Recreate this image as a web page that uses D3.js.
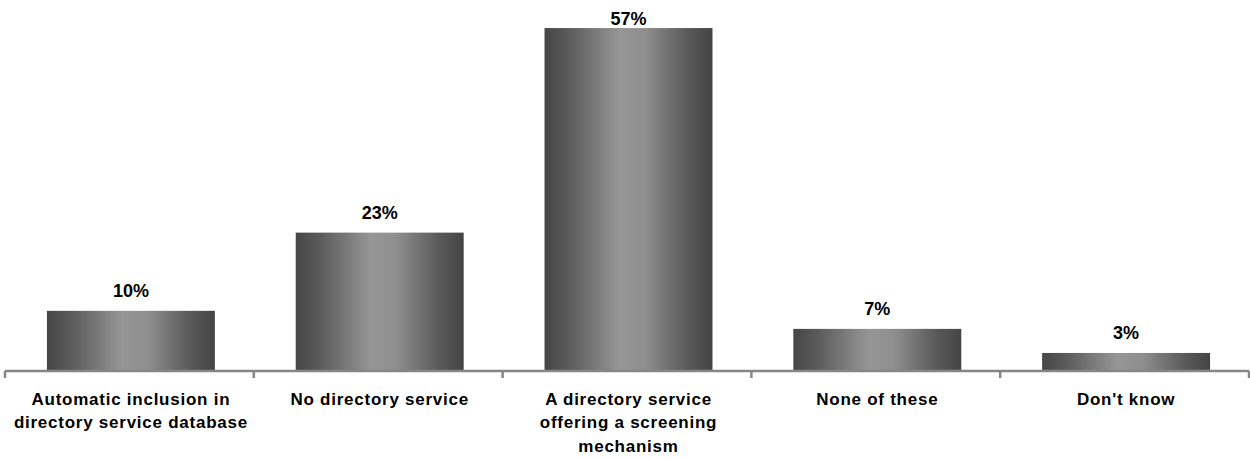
<!DOCTYPE html>
<html>
<head>
  <script src="https://cdn.jsdelivr.net/npm/d3@7/dist/d3.min.js"></script>
  <style>
    body { margin: 0; background: #fff; }
    text { font-family: "Liberation Sans", Arial, sans-serif; font-weight: bold; fill: #000; }
  </style>
</head>
<body>
<svg id="chart" width="1250" height="459"></svg>
<script>
  // chart data
  var categories = [
    ["Automatic inclusion in", "directory service database"],
    ["No directory service"],
    ["A directory service", "offering a screening", "mechanism"],
    ["None of these"],
    ["Don't know"]
  ];
  var values = [10, 23, 57, 7, 3];
  var valueLabels = ["10%", "23%", "57%", "7%", "3%"];

  var svg = d3.select("#chart");
  var baseY = 371;

  var x = d3.scaleBand()
    .domain(d3.range(values.length))
    .range([5, 1249])
    .paddingInner(0.325)
    .paddingOuter(0.1625);

  var y = d3.scaleLinear().domain([0, 60]).range([baseY, 10]);

  // horizontal shading on the bars
  var grad = svg.append("defs").append("linearGradient")
    .attr("id", "barShade").attr("x1", "0").attr("x2", "1").attr("y1", "0").attr("y2", "0");
  grad.append("stop").attr("offset", "0").attr("stop-color", "#464646");
  grad.append("stop").attr("offset", "0.15").attr("stop-color", "#5c5c5c");
  grad.append("stop").attr("offset", "0.45").attr("stop-color", "#969696");
  grad.append("stop").attr("offset", "0.6").attr("stop-color", "#8e8e8e");
  grad.append("stop").attr("offset", "0.85").attr("stop-color", "#5a5a5a");
  grad.append("stop").attr("offset", "1").attr("stop-color", "#444444");

  var shift = 1.5; // bars sit slightly right of band centre
  svg.selectAll("rect.bar").data(values).enter().append("rect")
    .attr("class", "bar")
    .attr("x", function(d, i) { return x(i) + shift; })
    .attr("width", x.bandwidth())
    .attr("y", function(d) { return y(d); })
    .attr("height", function(d) { return baseY - y(d); })
    .attr("fill", "url(#barShade)");

  svg.selectAll("text.val").data(values).enter().append("text")
    .attr("class", "val")
    .attr("x", function(d, i) { return x(i) + shift + x.bandwidth() / 2; })
    .attr("y", function(d) { return Math.max(y(d) - 14, 25); })
    .attr("text-anchor", "middle")
    .style("font-size", "18px")
    .text(function(d, i) { return valueLabels[i]; });

  // category axis: line + ticks at band edges
  var step = x.step();
  var edges = d3.range(values.length + 1).map(function(i) { return 5 + i * step; });
  svg.append("line")
    .attr("x1", 5).attr("x2", 1249).attr("y1", baseY).attr("y2", baseY)
    .attr("stroke", "#868686").attr("stroke-width", 2.5);
  svg.selectAll("line.tick").data(edges).enter().append("line")
    .attr("class", "tick")
    .attr("x1", function(d) { return d; }).attr("x2", function(d) { return d; })
    .attr("y1", baseY).attr("y2", baseY + 7)
    .attr("stroke", "#868686").attr("stroke-width", 2.5);

  var lab = svg.selectAll("text.cat").data(categories).enter().append("text")
    .attr("class", "cat")
    .attr("text-anchor", "middle")
    .style("font-size", "17px")
    .style("letter-spacing", "0.75px");
  lab.selectAll("tspan").data(function(d, i) { return d.map(function(t) { return { t: t, i: i }; }); })
    .enter().append("tspan")
    .attr("x", function(d) { return x(d.i) + shift + x.bandwidth() / 2; })
    .attr("y", function(d, j) { return 405 + j * 23.3; })
    .text(function(d) { return d.t; });
</script>
</body>
</html>
